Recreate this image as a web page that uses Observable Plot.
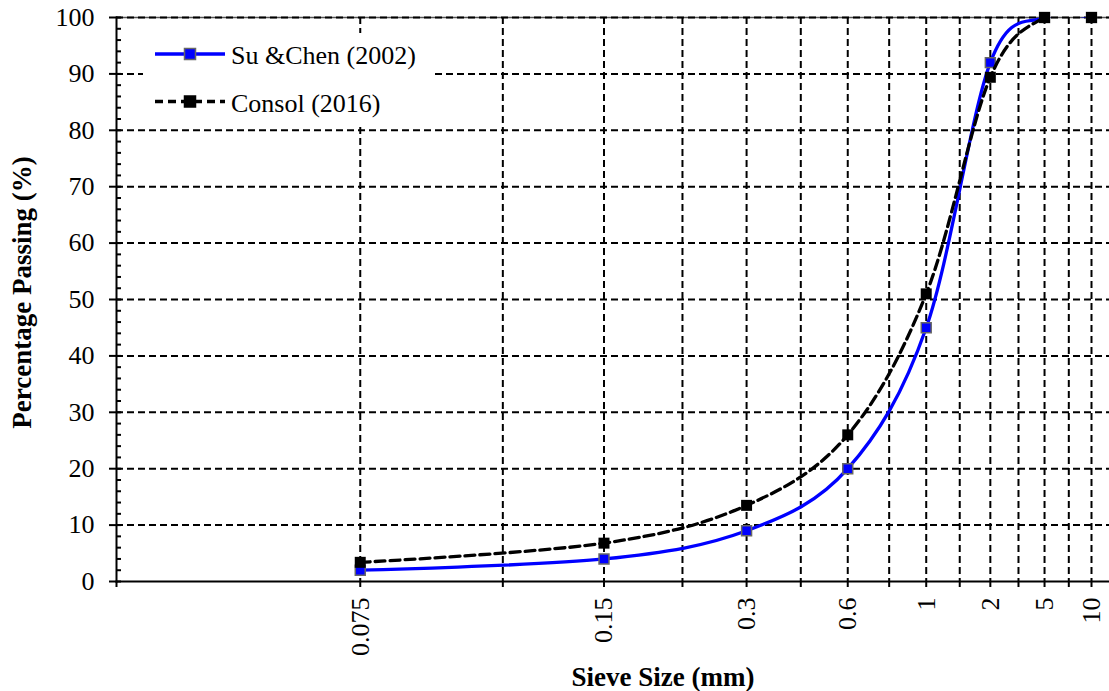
<!DOCTYPE html>
<html>
<head>
<meta charset="utf-8">
<script src="https://cdn.jsdelivr.net/npm/d3@7"></script>
<script src="https://cdn.jsdelivr.net/npm/@observablehq/plot@0.6"></script>
<style>
  html, body { margin: 0; padding: 0; background: #fff; }
</style>
</head>
<body>
<div id="chart"></div>
<script>
// Sieve sizes (mm) as printed under the axis
const sieveSizes = ["0.075", "0.15", "0.3", "0.6", "1", "2", "5", "10"];
// Value of each sieve on the logarithmic plotting axis (grid runs 1..16)
const axisValue = [2, 4, 6, 8, 10, 12, 14, 16];
// Percentage passing for each grading
const suChen = [2, 4, 9, 20, 45, 92, 100, 100];
const consol = [3.4, 6.8, 13.5, 26, 51, 89.4, 100, 100];

const seriesNames = ["Su &Chen (2002)", "Consol (2016)"];

const rows = sieveSizes.map((s, i) => ({sieve: s, x: axisValue[i], su: suChen[i], consol: consol[i]}));

const yMajor = d3.range(0, 101, 10);
const yMinor = d3.range(0, 101, 2);
const xGrid = d3.range(1, 17);

const serif = "'Liberation Serif', 'Times New Roman', serif";
const blue = "#0000ff";
const grid = {stroke: "black", strokeOpacity: 1, strokeWidth: 2, strokeDasharray: "7,4"};

// Legend box drawn inside the frame, top-left
function legend(index, scales, values, dims) {
  const g = d3.create("svg:g")
    .attr("font-family", serif)
    .attr("font-size", 26)
    .attr("text-anchor", "start");
  const x0 = dims.marginLeft + 27, y0 = dims.marginTop + 16;
  g.append("rect").attr("x", x0).attr("y", y0).attr("width", 289).attr("height", 93).attr("fill", "white");
  const items = [
    {name: seriesNames[0], stroke: blue, dash: null, fill: blue, mstroke: "#666", size: 11},
    {name: seriesNames[1], stroke: "black", dash: "8,5", fill: "black", mstroke: "black", size: 11}
  ];
  items.forEach((it, i) => {
    const cy = y0 + 21 + i * 47.5;
    g.append("line").attr("x1", x0 + 12).attr("x2", x0 + 82).attr("y1", cy).attr("y2", cy)
      .attr("stroke", it.stroke).attr("stroke-width", 3.3).attr("stroke-dasharray", it.dash);
    g.append("rect").attr("x", x0 + 47 - it.size / 2).attr("y", cy - it.size / 2)
      .attr("width", it.size).attr("height", it.size)
      .attr("fill", it.fill).attr("stroke", it.mstroke).attr("stroke-width", 1.5);
    g.append("text").attr("x", x0 + 88).attr("y", cy + 10).attr("fill", "black").text(it.name);
  });
  return g.node();
}

const chart = Plot.plot({
  width: 1109,
  height: 691,
  marginLeft: 116,
  marginRight: 0,
  marginTop: 17,
  marginBottom: 110,
  style: {fontFamily: serif, fontSize: "26px", color: "black", background: "white"},
  x: {type: "log", domain: [1, 16], range: [116, 1091]},
  y: {domain: [0, 100]},
  marks: [
    Plot.ruleY([100], {stroke: "#555", strokeWidth: 1.5}),
    Plot.gridY(yMajor.filter(d => d > 0), grid),
    Plot.gridX(xGrid.filter(d => d > 1), grid),
    legend,
    // axes
    Plot.frame({anchor: "left", strokeWidth: 2}),
    Plot.frame({anchor: "bottom", strokeWidth: 2}),
    Plot.axisY(yMajor, {tickSize: 7, tickPadding: 15, strokeWidth: 2, label: null, fontSize: 26}),
    Plot.axisY(yMinor, {tickSize: 5, dx: 5, fill: "none", strokeWidth: 2, label: null}),
    Plot.axisX(xGrid, {tickSize: 6, fill: "none", strokeWidth: 2, label: null}),
    Plot.text(rows, {x: "x", frameAnchor: "bottom", text: "sieve", rotate: -90, textAnchor: "end", lineAnchor: "middle", dy: 16, fontSize: 26}),
    Plot.text(["Sieve Size (mm)"], {frameAnchor: "bottom", dx: 50, dy: 104, textAnchor: "middle", lineAnchor: "bottom", fontWeight: "bold", fontSize: 27}),
    Plot.text(["Percentage Passing (%)"], {frameAnchor: "left", dx: -94, dy: -7, rotate: -90, textAnchor: "middle", lineAnchor: "middle", fontWeight: "bold", fontSize: 27}),
    // Su & Chen (2002): smoothed line, clipped at the 100 % ceiling
    Plot.line(rows, {x: "x", y: "su", stroke: blue, strokeWidth: 3.3, curve: "cardinal", clip: true}),
    Plot.dot(rows, {x: "x", y: "su", symbol: "square", r: 5.6, fill: blue, stroke: "#666", strokeWidth: 1.5}),
    // Consol (2016)
    Plot.line(rows, {x: "x", y: "consol", stroke: "black", strokeWidth: 3.3, strokeDasharray: "10,5", curve: "cardinal", clip: true}),
    Plot.dot(rows, {x: "x", y: "consol", symbol: "square", r: 6.2, fill: "black", stroke: "none"})
  ]
});

document.getElementById("chart").appendChild(chart);
</script>
</body>
</html>
